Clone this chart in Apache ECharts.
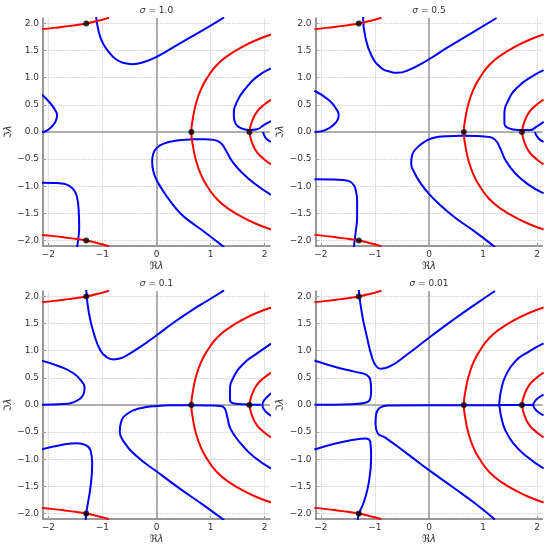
<!DOCTYPE html>
<html><head><meta charset="utf-8">
<script src="https://cdn.jsdelivr.net/npm/echarts@6/dist/echarts.min.js"></script>
<style>html,body{margin:0;padding:0;background:#fff}#c{width:550px;height:545px}</style>
</head><body><div id="c"></div>
<script>
const xTicks=[-2,-1,0,1,2];
const yTicks=[-2,-1.5,-1,-0.5,0,0.5,1,1.5,2];
const sigmaLabels=['1.0','0.5','0.1','0.01'];
const eigenPoints=[[-1.3,2.0],[-1.3,-2.0],[0.645,0],[1.72,0]];

// red contours (same in every panel)
const redTop=[[-2.12,1.895],[-1.9,1.918],[-1.7,1.942],[-1.5,1.968],[-1.3,2.0],[-1.1,2.043],[-0.88,2.105]];
const redBottom=[[-2.12,-1.895],[-1.9,-1.918],[-1.7,-1.942],[-1.5,-1.968],[-1.3,-2.0],[-1.1,-2.043],[-0.88,-2.105]];
const redOuter=[[2.12,1.795],[1.85,1.695],[1.6,1.575],[1.37,1.44],[1.12,1.24],[0.94,1.0],[0.82,0.78],[0.73,0.52],[0.675,0.26],[0.645,0],[0.675,-0.26],[0.73,-0.52],[0.82,-0.78],[0.94,-1.0],[1.12,-1.24],[1.37,-1.44],[1.6,-1.575],[1.85,-1.695],[2.12,-1.795]];
const redInner=[[2.12,0.595],[1.99,0.50],[1.86,0.375],[1.77,0.2],[1.725,0],[1.77,-0.2],[1.86,-0.375],[1.99,-0.5],[2.12,-0.595]];

// blue contours, sigma = 1.0
const b1Top=[[-1.117,2.12],[-1.07,1.85],[-1.0,1.65],[-0.91,1.51],[-0.75,1.34],[-0.6,1.27],[-0.45,1.25],[-0.23,1.29],[0,1.385],[0.3,1.555],[0.6,1.73],[0.9,1.9],[1.25,2.11]];
const b1Left=[[-2.12,0.69],[-1.96,0.525],[-1.88,0.41],[-1.84,0.31],[-1.87,0.19],[-1.96,0.077],[-2.06,0.01],[-2.12,0]];
const b1BottomLeft=[[-2.12,-0.937],[-1.9,-0.94],[-1.72,-0.955],[-1.6,-1.0],[-1.52,-1.08],[-1.47,-1.2],[-1.44,-1.44],[-1.43,-1.75],[-1.45,-1.99],[-1.47,-2.12]];
const b1Mid=[[1.25,-2.12],[0.9,-1.85],[0.65,-1.67],[0.444,-1.5],[0.25,-1.27],[0.1,-1.05],[0.0,-0.88],[-0.06,-0.72],[-0.08,-0.55],[-0.06,-0.40],[0.02,-0.28],[0.15,-0.21],[0.3,-0.17],[0.5,-0.145],[0.7,-0.135],[0.9,-0.135],[1.06,-0.145],[1.185,-0.20],[1.28,-0.33],[1.40,-0.54],[1.59,-0.756],[1.80,-0.94],[2.12,-1.16]];
const b1Right=[[2.12,1.17],[1.86,1.02],[1.65,0.805],[1.49,0.56],[1.43,0.31],[1.46,0.16],[1.56,0.07],[1.71,0.035],[1.86,0.05],[1.99,0.13],[2.12,0.2]];
const b1Small=[[1.97,0],[1.99,-0.05],[2.02,-0.11],[2.06,-0.15],[2.12,-0.18]];

// blue contours, sigma = 0.5
const b2Top=[[-1.22,2.12],[-1.18,1.76],[-1.055,1.39],[-0.87,1.17],[-0.72,1.11],[-0.59,1.09],[-0.38,1.14],[0,1.34],[0.3,1.53],[0.6,1.71],[0.9,1.89],[1.25,2.1]];
const b2Left=[[-2.12,0.76],[-1.855,0.59],[-1.72,0.43],[-1.67,0.31],[-1.71,0.19],[-1.855,0.068],[-2.01,0.008],[-2.12,0]];
const b2BottomLeft=[[-2.12,-0.872],[-1.8,-0.875],[-1.6,-0.885],[-1.47,-0.91],[-1.39,-0.98],[-1.35,-1.1],[-1.33,-1.25],[-1.33,-1.56],[-1.36,-1.87],[-1.39,-2.12]];
const b2Mid=[[1.22,-2.12],[0.855,-1.84],[0.485,-1.58],[0.2,-1.34],[0,-1.14],[-0.15,-0.95],[-0.27,-0.75],[-0.33,-0.58],[-0.31,-0.42],[-0.2,-0.27],[-0.05,-0.16],[0.11,-0.1],[0.3,-0.08],[0.6,-0.07],[0.9,-0.075],[1.10,-0.09],[1.22,-0.14],[1.315,-0.295],[1.41,-0.51],[1.59,-0.756],[1.84,-0.97],[2.12,-1.13]];
const b2Right=[[2.12,1.14],[1.90,1.02],[1.65,0.835],[1.47,0.59],[1.395,0.31],[1.395,0.16],[1.47,0.07],[1.65,0.037],[1.87,0.037],[1.99,0.098],[2.12,0.19]];
const b2Small=[[1.96,0],[1.98,-0.05],[2.02,-0.11],[2.06,-0.15],[2.12,-0.18]];

// blue contours, sigma = 0.1
const b3Top=[[-1.30,2.12],[-1.25,1.69],[-1.16,1.32],[-1.04,1.01],[-0.92,0.88],[-0.8,0.84],[-0.66,0.86],[-0.54,0.92],[-0.30,1.07],[0.01,1.29],[0.32,1.52],[0.63,1.73],[0.94,1.92],[1.25,2.11]];
const b3Left=[[-2.12,0.816],[-1.78,0.705],[-1.53,0.58],[-1.39,0.44],[-1.33,0.32],[-1.36,0.18],[-1.47,0.08],[-1.72,0.018],[-2.12,0.005]];
const b3BottomLeft=[[-2.12,-0.816],[-1.78,-0.74],[-1.47,-0.705],[-1.31,-0.74],[-1.22,-0.84],[-1.19,-1.07],[-1.22,-1.50],[-1.28,-1.87],[-1.30,-2.0],[-1.31,-2.12]];
const b3Mid=[[1.25,-2.12],[0.85,-1.83],[0.444,-1.55],[0.01,-1.23],[-0.36,-0.95],[-0.605,-0.675],[-0.68,-0.49],[-0.66,-0.33],[-0.54,-0.16],[-0.30,-0.06],[0.01,-0.018],[0.32,-0.006],[0.63,-0.004],[1.0,-0.01],[1.185,-0.02],[1.26,-0.06],[1.31,-0.22],[1.37,-0.44],[1.56,-0.71],[1.80,-0.955],[2.12,-1.17]];
const b3Right=[[2.12,1.13],[1.86,0.95],[1.62,0.77],[1.43,0.52],[1.36,0.27],[1.36,0.09],[1.43,0.028],[1.68,0.01],[1.93,0.003]];
const b3C=[[2.12,0.215],[2.02,0.12],[1.97,0.05],[1.96,0],[1.97,-0.05],[2.02,-0.12],[2.12,-0.2]];

// blue contours, sigma = 0.01
const b4Top=[[-1.30,2.12],[-1.24,1.68],[-1.148,1.25],[-1.055,0.88],[-0.99,0.736],[-0.90,0.67],[-0.75,0.70],[-0.38,0.948],[0,1.24],[0.45,1.57],[0.85,1.85],[1.22,2.1]];
const b4Left=[[-2.12,0.82],[-1.73,0.70],[-1.36,0.61],[-1.148,0.55],[-1.086,0.457],[-1.07,0.273],[-1.086,0.12],[-1.18,0.04],[-1.42,0.015],[-2.12,0.003]];
const b4BottomLeft=[[-2.12,-0.82],[-1.73,-0.71],[-1.36,-0.635],[-1.18,-0.617],[-1.086,-0.68],[-1.07,-0.95],[-1.117,-1.445],[-1.21,-1.8],[-1.295,-2.0],[-1.32,-2.12]];
const b4Mid=[[1.22,-2.11],[0.85,-1.81],[0.45,-1.52],[0,-1.2],[-0.4,-0.9],[-0.81,-0.6],[-0.95,-0.52],[-0.99,-0.34],[-0.975,-0.156],[-0.90,-0.046],[-0.75,-0.009],[0,-0.003],[1.28,-0.003],[1.30,-0.02],[1.335,-0.215],[1.41,-0.46],[1.56,-0.705],[1.81,-0.95],[2.12,-1.17]];
const b4Right=[[2.12,1.135],[1.84,0.98],[1.59,0.80],[1.41,0.52],[1.335,0.276],[1.305,0.08],[1.30,0],[1.93,0]];
const b4C=[[2.12,0.19],[2.02,0.13],[1.96,0.07],[1.93,0],[1.96,-0.07],[2.02,-0.13],[2.12,-0.19]];

const redCurves=[redTop,redBottom,redOuter,redInner];
const blueCurves=[
  [b1Top,b1Left,b1BottomLeft,b1Mid,b1Right,b1Small],
  [b2Top,b2Left,b2BottomLeft,b2Mid,b2Right,b2Small],
  [b3Top,b3Left,b3BottomLeft,b3Mid,b3Right,b3C],
  [b4Top,b4Left,b4BottomLeft,b4Mid,b4Right,b4C]
];

const FONT='DejaVu Sans';
const boxes=[[43,18],[315.5,18],[43,291],[315.5,291]];
const W=227, H=228;
const minus=s=>String(s).replace('-','\u2212');

const grid=[],xAxis=[],yAxis=[],series=[],title=[];
boxes.forEach((b,i)=>{
  grid.push({left:b[0],top:b[1],width:W,height:H,containLabel:false});
  title.push({text:'{i|σ} = '+sigmaLabels[i],left:b[0]+W/2,top:b[1]-12,textAlign:'center',padding:0,
    textStyle:{fontSize:9,color:'#333',fontWeight:'normal',fontFamily:FONT,
      rich:{i:{fontStyle:'italic',fontSize:9,color:'#333',fontFamily:FONT}}}});
  xAxis.push({type:'value',gridIndex:i,min:-2.1,max:2.1,
    name:'{a|ℜ}{b|λ}',nameLocation:'middle',nameGap:15,
    nameTextStyle:{fontSize:10,color:'#333',fontFamily:FONT,rich:{a:{fontSize:10,color:'#333',fontFamily:FONT},b:{fontSize:10,color:'#333',fontStyle:'italic',fontFamily:FONT}}},
    axisLine:{show:true,onZero:false,lineStyle:{color:'#777',width:1.5}},
    axisTick:{show:true,inside:true,length:3,customValues:xTicks,lineStyle:{color:'#777'}},
    axisLabel:{customValues:xTicks,formatter:v=>minus(Math.round(v)),fontSize:9,color:'#333',fontFamily:FONT,margin:4},
    splitLine:{show:false}});
  yAxis.push({type:'value',gridIndex:i,min:-2.1,max:2.1,
    name:'{a|ℑ}{b|λ}',nameLocation:'middle',nameGap:30,
    nameTextStyle:{fontSize:10,color:'#333',fontFamily:FONT,rich:{a:{fontSize:10,color:'#333',fontFamily:FONT},b:{fontSize:10,color:'#333',fontStyle:'italic',fontFamily:FONT}}},
    axisLine:{show:true,onZero:false,lineStyle:{color:'#777',width:1.5}},
    axisTick:{show:true,inside:true,length:3,customValues:yTicks,lineStyle:{color:'#777'}},
    axisLabel:{customValues:yTicks,formatter:v=>minus(v.toFixed(1)),fontSize:9,color:'#333',fontFamily:FONT,margin:4},
    splitLine:{show:false}});
  series.push({type:'line',xAxisIndex:i,yAxisIndex:i,data:[],silent:true,z:1,
    markLine:{silent:true,symbol:'none',z:1,label:{show:false},animation:false,
      lineStyle:{type:'dotted',color:'#c4c4c4',width:0.9},
      emphasis:{disabled:true},
      data:xTicks.map(v=>({xAxis:v})).concat(yTicks.map(v=>({yAxis:v})))}});
  series.push({type:'line',xAxisIndex:i,yAxisIndex:i,data:[],silent:true,z:1,
    markLine:{silent:true,symbol:'none',z:1,label:{show:false},animation:false,
      lineStyle:{type:'solid',color:'#999',width:1.5},
      emphasis:{disabled:true},
      data:[{xAxis:0},{yAxis:0}]}});
  blueCurves[i].forEach(c=>series.push({type:'line',xAxisIndex:i,yAxisIndex:i,data:c,smooth:0.5,showSymbol:false,
    lineStyle:{color:'#0000ff',width:2},z:3,silent:true,animation:false}));
  redCurves.forEach(c=>series.push({type:'line',xAxisIndex:i,yAxisIndex:i,data:c,smooth:0.5,showSymbol:false,
    lineStyle:{color:'#ff0000',width:2},z:3,silent:true,animation:false}));
  series.push({type:'scatter',xAxisIndex:i,yAxisIndex:i,data:eigenPoints,symbolSize:6,
    itemStyle:{color:'#000'},z:5,silent:true,animation:false});
});

const chart=echarts.init(document.getElementById('c'),null,{renderer:'canvas'});
chart.setOption({animation:false,backgroundColor:'#fff',title,grid,xAxis,yAxis,series});
</script></body></html>
